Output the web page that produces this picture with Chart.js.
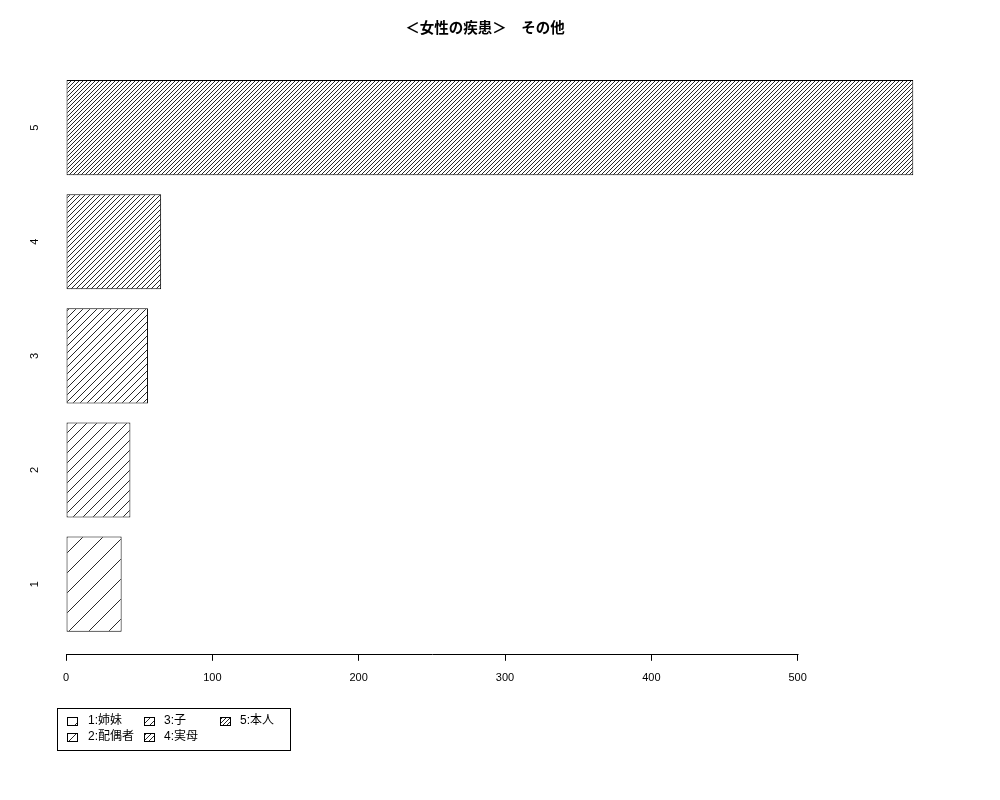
<!DOCTYPE html>
<html lang="ja">
<head>
<meta charset="UTF-8">
<title>女性の疾患 その他</title>
<script src="https://cdn.jsdelivr.net/npm/chart.js@4/dist/chart.umd.min.js"></script>
<style>
  body { margin: 0; background: #fff; }
  #chart { display: block; }
</style>
</head>
<body>
<canvas id="chart" width="1000" height="800"></canvas>
<script>
// data
const chartTitle = '＜女性の疾患＞　その他';
const categories = ['1', '2', '3', '4', '5'];
const counts = [38, 44, 56, 65, 579];
const legendLabels = ['1:姉妹', '2:配偶者', '3:子', '4:実母', '5:本人'];
const xTicks = [0, 100, 200, 300, 400, 500];

// hatch density per bar (lines per inch, like R's density=)
const hatchDensity = [5, 10, 15, 20, 25];

const FONT = '"Liberation Sans", "Noto Sans CJK JP", sans-serif';
Chart.defaults.font.family = FONT;
Chart.defaults.color = '#000';

// 45 degree "/" hatch, drawn pixel by pixel so the tile seams stay clean
function hatch(density) {
  const s = Math.max(3, Math.round(72 * Math.SQRT2 / density));
  const c = document.createElement('canvas');
  c.width = s; c.height = s;
  const g = c.getContext('2d');
  const img = g.createImageData(s, s);
  for (let y = 0; y < s; y++) {
    for (let x = 0; x < s; x++) {
      const k = (y * s + x) * 4;
      const on = (x + y + 1) % s === 0;
      const v = on ? 40 : 255;
      img.data[k] = v; img.data[k + 1] = v; img.data[k + 2] = v; img.data[k + 3] = 255;
    }
  }
  g.putImageData(img, 0, 0);
  return g.createPattern(c, 'repeat');
}
const patterns = hatchDensity.map(hatch);

// R barplot layout: width 1, space 0.2
const barPos = categories.map((c, i) => 0.7 + 1.2 * i);

const extras = {
  id: 'extras',
  afterDraw(chart) {
    const ctx = chart.ctx;
    const xs = chart.scales.x, ys = chart.scales.y;
    const area = chart.chartArea;
    ctx.save();
    // axis line from first to last tick
    ctx.strokeStyle = '#000';
    ctx.lineWidth = 1;
    ctx.beginPath();
    const yb = Math.round(area.bottom) + 0.5;
    ctx.moveTo(Math.round(xs.getPixelForValue(xTicks[0])) + 0.5, yb);
    ctx.lineTo(Math.round(xs.getPixelForValue(xTicks[xTicks.length - 1])) + 0.5, yb);
    ctx.stroke();

    // rotated category labels
    ctx.font = '11px ' + FONT;
    ctx.fillStyle = '#000';
    ctx.textAlign = 'center';
    ctx.textBaseline = 'middle';
    categories.forEach((c, i) => {
      ctx.save();
      ctx.translate(35, ys.getPixelForValue(barPos[i]));
      ctx.rotate(-Math.PI / 2);
      ctx.fillText(c, 0, 0);
      ctx.restore();
    });

    // legend box
    ctx.strokeRect(57.5, 708.5, 233, 42);
    const cols = [[67, 88], [144, 164], [220, 240]];
    const rows = [721, 737];
    ctx.font = '12px ' + FONT;
    ctx.textAlign = 'left';
    legendLabels.forEach((lab, i) => {
      const [sx, tx] = cols[Math.floor(i / 2)];
      const y = rows[i % 2];
      ctx.fillStyle = patterns[i];
      ctx.fillRect(sx, y - 4, 10, 8);
      ctx.strokeRect(sx + 0.5, y - 4 + 0.5, 10, 8);
      ctx.fillStyle = '#000';
      ctx.fillText(lab, tx, y);
    });
    ctx.restore();
  }
};

new Chart(document.getElementById('chart'), {
  type: 'bar',
  data: {
    datasets: [{
      label: chartTitle,
      data: categories.map((c, i) => ({ x: counts[i], y: barPos[i] })),
      backgroundColor: patterns,
      borderColor: '#000',
      borderWidth: 1,
      borderSkipped: false,
      barPercentage: 1 / 1.2,
      categoryPercentage: 1
    }]
  },
  options: {
    indexAxis: 'y',
    responsive: false,
    animation: false,
    layout: { padding: { left: 32, right: 62, top: 0, bottom: 104 } },
    plugins: {
      legend: { display: false },
      tooltip: { enabled: false },
      title: {
        display: true,
        text: chartTitle,
        font: { size: 14.5, weight: 'bold' },
        padding: { top: 20, bottom: 20.6 }
      }
    },
    scales: {
      x: {
        type: 'linear',
        min: -4.8,
        max: 595.9,
        afterBuildTicks: s => { s.ticks = xTicks.map(v => ({ value: v })); },
        ticks: { font: { size: 11 }, padding: 11, maxRotation: 0 },
        grid: { drawOnChartArea: false, color: '#000', tickLength: 7 },
        border: { display: false }
      },
      y: {
        type: 'linear',
        offset: false,
        min: -0.032,
        max: 6.232,
        afterBuildTicks: s => { s.ticks = barPos.map(v => ({ value: v })); },
        ticks: { display: false },
        grid: { display: false, offset: false },
        border: { display: false },
        afterFit: s => { s.width = 27; }
      }
    }
  },
  plugins: [extras]
});
</script>
</body>
</html>
